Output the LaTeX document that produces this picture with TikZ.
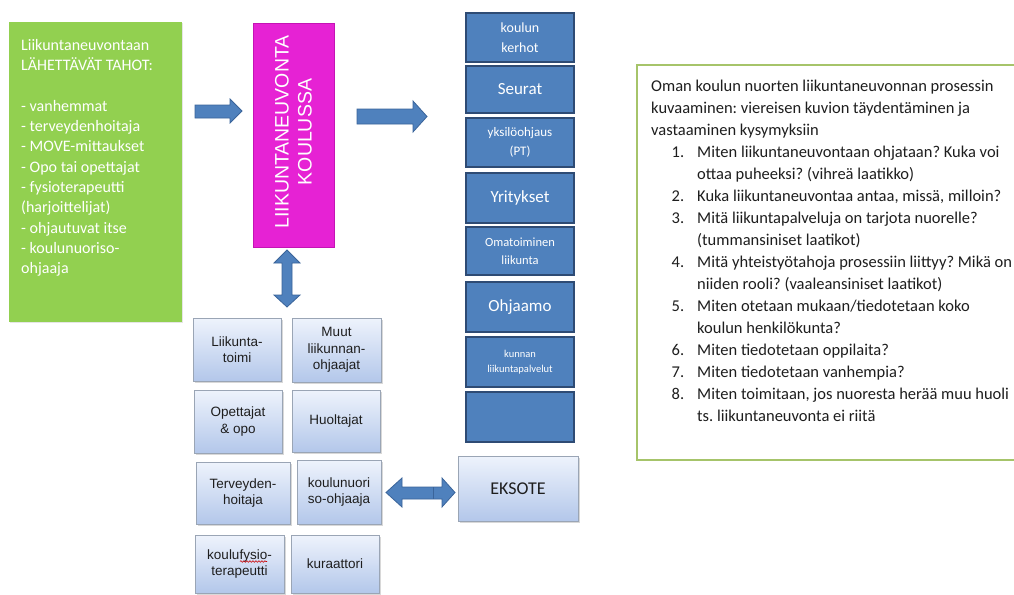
\documentclass[tikz,border=0pt]{standalone}
\usepackage{fontspec}
\setmainfont{Carlito}
\newfontfamily\arialf{Liberation Sans}
\usetikzlibrary{shadows,decorations.pathmorphing}
\definecolor{darkb}{HTML}{4F81BD}
\definecolor{darkbline}{HTML}{2E4B74}
\definecolor{arrowline}{HTML}{3A649A}
\definecolor{greenbox}{HTML}{92D050}
\definecolor{magentab}{HTML}{E622D4}
\definecolor{magline}{HTML}{C414B4}
\definecolor{lighttop}{HTML}{EEF3FC}
\definecolor{lightbot}{HTML}{B3C7EA}
\definecolor{lightline}{HTML}{9AA5B5}
\definecolor{frameg}{HTML}{A6C46A}
\definecolor{textdark}{HTML}{1E1E1E}
\frenchspacing
\begin{document}
\begin{tikzpicture}[x=1pt,y=-1pt,
  darkbox/.style={rectangle, fill=darkb, draw=darkbline, line width=1.2pt,
    inner sep=0pt, align=center, text=white,
    drop shadow={opacity=0.25, shadow xshift=1pt, shadow yshift=-1pt}},
  lightbox/.style={rectangle, top color=lighttop, bottom color=lightbot,
    draw=lightline, line width=0.8pt, inner sep=0pt, align=center, text=textdark,
    font=\arialf\fontsize{13.5}{16.5}\selectfont,
    drop shadow={opacity=0.3, shadow xshift=1.5pt, shadow yshift=-1.5pt}},
  blockarrow/.style={fill=darkb, draw=arrowline, line width=0.8pt, line join=miter}
]
\useasboundingbox (0,0) rectangle (1014,594);
\fill[white] (0,0) rectangle (1014,594);

% green box
\node[rectangle, fill=greenbox, inner sep=0pt, minimum width=173pt, minimum height=300pt,
  drop shadow={opacity=0.2, shadow xshift=1pt, shadow yshift=-1pt}] (green) at (95.5,172) {};
\node[anchor=north west, inner sep=0pt, align=left, text=white,
  font=\fontsize{16}{20.3}\selectfont] (greentext) at (21,39)
  {Liikuntaneuvontaan\\LÄHETTÄVÄT TAHOT:\\[20.3pt]
   - vanhemmat\\- terveydenhoitaja\\- MOVE-mittaukset\\- Opo tai opettajat\\
   - fysioterapeutti\\(harjoittelijat)\\- ohjautuvat itse\\- koulunuoriso-\\ohjaaja};

% magenta box
\node[rectangle, fill=magentab, draw=magline, line width=0.8pt, inner sep=0pt,
  minimum width=81pt, minimum height=224pt] (school) at (293.5,135) {};
\node[rotate=90, align=center, text=white, inner sep=0pt,
  font=\arialf\fontsize{19.5}{23}\selectfont] (schooltext) at (293.5,132) {LIIKUNTANEUVONTA\\KOULUSSA};

% block arrows
\draw[blockarrow] (195,105) -- (230,105) -- (230,99) -- (242,111) -- (230,123) -- (230,118) -- (195,118) -- cycle;
\draw[blockarrow] (357,109) -- (413,109) -- (413,101) -- (427,116.5) -- (413,132) -- (413,124) -- (357,124) -- cycle;
\draw[blockarrow] (282,263) -- (274,263) -- (287,250) -- (300,263) -- (292,263) -- (292,295) -- (300,295) -- (287,307) -- (274,295) -- (282,295) -- cycle;
\draw[blockarrow] (402,487) -- (402,478) -- (386,492.5) -- (402,507) -- (402,499) -- (442,499) -- (442,507) -- (455,492.5) -- (442,478) -- (442,487) -- cycle;
\draw[arrowline, line width=0.8pt] (433,487) -- (433,499);

% dark blue column
\node[darkbox, minimum width=108pt, minimum height=49pt, font=\fontsize{14}{20}\selectfont] (kerhot) at (520,37.5) {koulun\\kerhot};
\node[darkbox, minimum width=108pt, minimum height=47pt, font=\fontsize{17}{20}\selectfont] (seurat) at (520,89.5) {Seurat};
\node[darkbox, minimum width=108pt, minimum height=49pt, font=\fontsize{13}{19}\selectfont] (pt) at (520,142.5) {yksilöohjaus\\(PT)};
\node[darkbox, minimum width=108pt, minimum height=50pt, font=\fontsize{17}{20}\selectfont] (yrit) at (520,198) {Yritykset};
\node[darkbox, minimum width=108pt, minimum height=48pt, font=\fontsize{12.5}{18}\selectfont] (omat) at (520,251) {Omatoiminen\\liikunta};
\node[darkbox, minimum width=108pt, minimum height=50pt, font=\fontsize{17}{20}\selectfont] (ohjaamo) at (520,307) {Ohjaamo};
\node[darkbox, minimum width=108pt, minimum height=50pt, font=\fontsize{10.5}{15}\selectfont] (kunnan) at (520,362) {kunnan\\liikuntapalvelut};
\node[darkbox, minimum width=108pt, minimum height=50pt] (empty) at (520,417) {};

% light blue grid
\node[lightbox, minimum width=88pt, minimum height=63pt] (liik) at (237,349.5) {Liikunta-\\toimi};
\node[lightbox, minimum width=89pt, minimum height=64pt] (muut) at (336.5,350) {Muut\\liikunnan-\\ohjaajat};
\node[lightbox, minimum width=88pt, minimum height=63pt] (opet) at (238,421.5) {Opettajat\\\& opo};
\node[lightbox, minimum width=88pt, minimum height=62pt] (huol) at (336,421) {Huoltajat};
\node[lightbox, minimum width=94pt, minimum height=62pt] (terv) at (243,493) {Terveyden-\\hoitaja};
\node[lightbox, minimum width=84pt, minimum height=64pt] (knuor) at (339,492) {koulunuori\\so-ohjaaja};
\node[lightbox, minimum width=89pt, minimum height=58pt] (fysio) at (239.5,564) {koulufysio-\\terapeutti};
\node[lightbox, minimum width=88pt, minimum height=58pt] (kuraat) at (335,564) {kuraattori};
\node[lightbox, minimum width=120pt, minimum height=65pt, font=\fontsize{18}{20}\selectfont] (eksote) at (518,488.5) {EKSOTE};
\draw[red!80!black, line width=0.6pt, decorate, decoration={snake, amplitude=0.8pt, segment length=3pt}] (240,561.5) -- (267,561.5);

% question frame
\draw[frameg, line width=2.5pt] (1016,65) -- (637,65) -- (637,460) -- (1016,460);
\node[anchor=north west, inner sep=0pt, align=left, text=textdark,
  font=\fontsize{16.5}{22}\selectfont] (questions) at (651,80)
  {Oman koulun nuorten liikuntaneuvonnan prosessin\\
   kuvaaminen: viereisen kuvion täydentäminen ja\\
   vastaaminen kysymyksiin\\
   \makebox[33pt][r]{1.}\hspace*{13pt}Miten liikuntaneuvontaan ohjataan? Kuka voi\\
   \hspace*{46pt}ottaa puheeksi? (vihreä laatikko)\\
   \makebox[33pt][r]{2.}\hspace*{13pt}Kuka liikuntaneuvontaa antaa, missä, milloin?\\
   \makebox[33pt][r]{3.}\hspace*{13pt}Mitä liikuntapalveluja on tarjota nuorelle?\\
   \hspace*{46pt}(tummansiniset laatikot)\\
   \makebox[33pt][r]{4.}\hspace*{13pt}Mitä yhteistyötahoja prosessiin liittyy? Mikä on\\
   \hspace*{46pt}niiden rooli? (vaaleansiniset laatikot)\\
   \makebox[33pt][r]{5.}\hspace*{13pt}Miten otetaan mukaan/tiedotetaan koko\\
   \hspace*{46pt}koulun henkilökunta?\\
   \makebox[33pt][r]{6.}\hspace*{13pt}Miten tiedotetaan oppilaita?\\
   \makebox[33pt][r]{7.}\hspace*{13pt}Miten tiedotetaan vanhempia?\\
   \makebox[33pt][r]{8.}\hspace*{13pt}Miten toimitaan, jos nuoresta herää muu huoli\\
   \hspace*{46pt}ts. liikuntaneuvonta ei riitä};
\end{tikzpicture}
\end{document}
